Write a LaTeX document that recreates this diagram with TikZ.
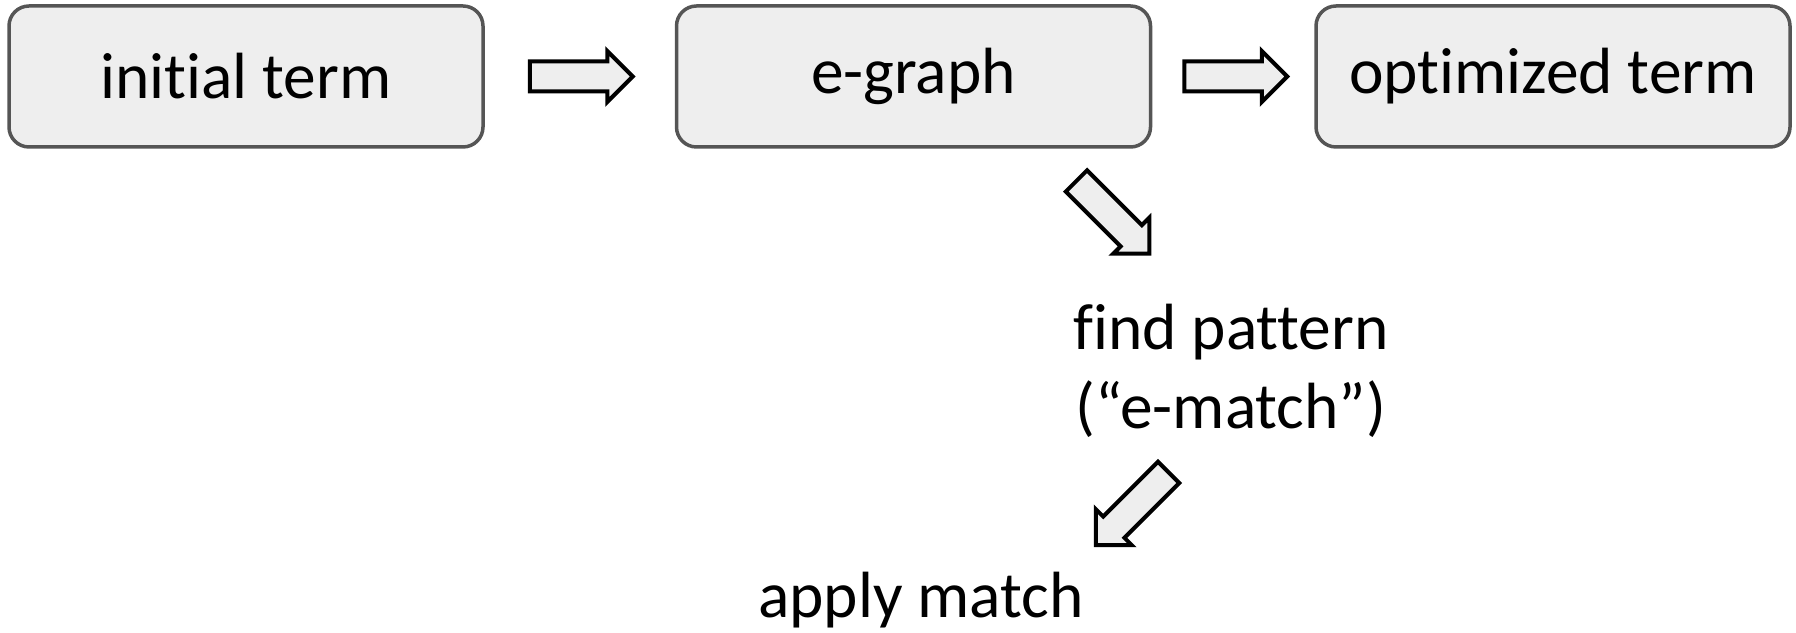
\documentclass[tikz,border=0pt]{standalone}
\usepackage{fontspec}
\setmainfont{Carlito}[Ligatures=NoCommon]
\usepackage{tikz}
\usetikzlibrary{positioning,shapes.arrows}
\definecolor{boxFill}{RGB}{238,238,238}
\definecolor{boxLine}{RGB}{85,85,85}
\begin{document}
\begin{tikzpicture}[font=\fontsize{18.6}{22.4}\selectfont,
  stage/.style={draw=boxLine,fill=boxFill,line width=0.035cm,rounded corners=0.2cm,minimum width=4.74cm,minimum height=1.41cm,inner sep=0pt},
  blk/.style={single arrow,draw=black,fill=boxFill,line width=0.04cm,minimum height=1.03cm,single arrow head extend=0.105cm,inner xsep=0pt,inner ysep=0.13cm}]
\useasboundingbox (0,0) rectangle (17.96,-6.33);
% top row
\node[stage] (init) at (2.46,-0.765) {initial term};
\node[blk,right=0.43cm of init,anchor=tail] (a1) {};
\node[stage,right=1.90cm of init] (egraph) {e-graph};
\node[blk,right=0.30cm of egraph,anchor=tail] (a2) {};
\node[stage,right=1.62cm of egraph] (opt) {optimized term};
% rewrite loop
\node[blk,rotate=-45,anchor=tail] (a3) at (10.75,-1.795) {};
\node[align=center,inner sep=0pt] (find) at (12.31,-3.71) {find pattern\\(“e-match”)};
\node[blk,rotate=-135,anchor=tail] (a4) at (11.70,-4.71) {};
\node[anchor=base,inner sep=0pt] (apply) at (9.21,-6.18) {apply match};
\end{tikzpicture}
\end{document}
